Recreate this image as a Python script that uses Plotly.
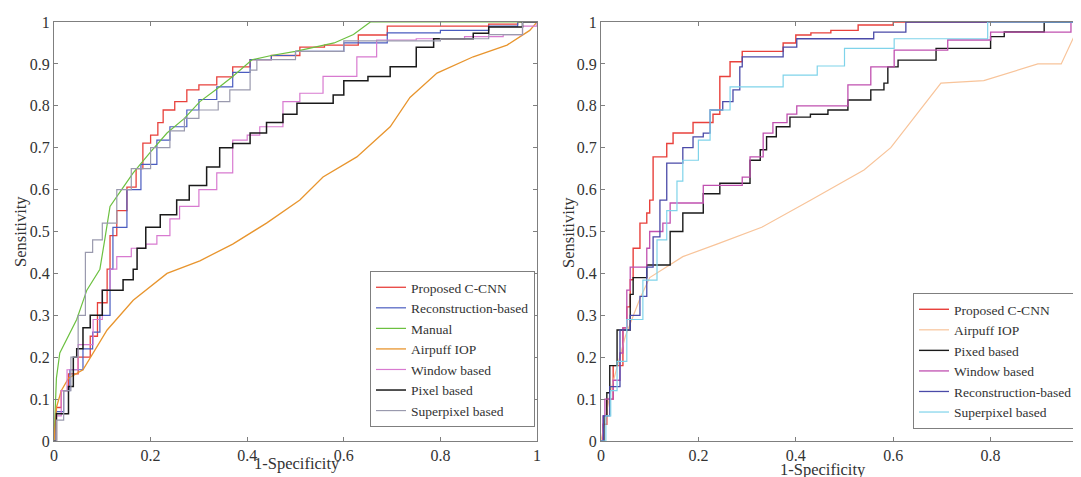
import plotly.graph_objects as go

# Page has an 8px body margin; the figure is sized so it fits the 1081x477 window.
OFF = 8
W, H = 1081 - OFF, 477 - OFF

def px(x):
    return (x - OFF) / W

def py(y):
    return 1 - (y - OFF) / H

# ---------------- Left panel data (1-Specificity, Sensitivity) ----------------
L_red_x = [0, 0.005, 0.015, 0.03, 0.05, 0.075, 0.09, 0.11, 0.116, 0.13, 0.151, 0.17, 0.184, 0.2, 0.215, 0.226, 0.25, 0.275, 0.3, 0.337, 0.37, 0.406, 0.45, 0.509, 0.56, 0.63, 0.69, 0.8, 0.9, 0.96, 1]
L_red_y = [0, 0.08, 0.12, 0.16, 0.2, 0.25, 0.33, 0.41, 0.49, 0.55, 0.606, 0.65, 0.711, 0.73, 0.76, 0.79, 0.81, 0.838, 0.85, 0.869, 0.893, 0.91, 0.92, 0.94, 0.945, 0.969, 0.99, 0.99, 0.995, 1, 1]

L_blue_x = [0, 0.005, 0.02, 0.033, 0.06, 0.08, 0.095, 0.116, 0.122, 0.151, 0.18, 0.213, 0.24, 0.275, 0.3, 0.337, 0.37, 0.406, 0.45, 0.5, 0.6, 0.69, 0.8, 0.9, 0.96, 1]
L_blue_y = [0, 0.07, 0.12, 0.17, 0.22, 0.26, 0.3, 0.41, 0.51, 0.6, 0.66, 0.718, 0.75, 0.79, 0.815, 0.845, 0.88, 0.91, 0.92, 0.93, 0.95, 0.974, 0.98, 0.99, 1, 1]

L_green_x = [0, 0.003, 0.005, 0.012, 0.03, 0.047, 0.068, 0.095, 0.105, 0.116, 0.14, 0.164, 0.2, 0.234, 0.27, 0.302, 0.337, 0.37, 0.41, 0.45, 0.5, 0.58, 0.62, 0.655, 1]
L_green_y = [0, 0.1, 0.15, 0.21, 0.25, 0.29, 0.36, 0.41, 0.48, 0.56, 0.6, 0.64, 0.69, 0.735, 0.77, 0.81, 0.84, 0.87, 0.91, 0.92, 0.93, 0.95, 0.97, 1.0, 1.0]

L_orange_x = [0, 0.005, 0.015, 0.03, 0.06, 0.11, 0.164, 0.234, 0.302, 0.37, 0.44, 0.509, 0.557, 0.627, 0.696, 0.737, 0.793, 0.868, 0.938, 0.965, 0.985, 1]
L_orange_y = [0, 0.08, 0.12, 0.15, 0.17, 0.265, 0.336, 0.4, 0.43, 0.47, 0.52, 0.575, 0.63, 0.678, 0.75, 0.82, 0.878, 0.917, 0.945, 0.965, 0.98, 1]

L_pink_x = [0, 0.005, 0.015, 0.027, 0.05, 0.081, 0.1, 0.116, 0.13, 0.16, 0.19, 0.213, 0.24, 0.26, 0.3, 0.337, 0.37, 0.4, 0.426, 0.474, 0.509, 0.557, 0.627, 0.668, 0.75, 0.85, 0.93, 0.97, 1]
L_pink_y = [0, 0.06, 0.12, 0.17, 0.23, 0.29, 0.36, 0.41, 0.44, 0.46, 0.47, 0.49, 0.53, 0.56, 0.6, 0.64, 0.718, 0.73, 0.75, 0.81, 0.83, 0.87, 0.917, 0.957, 0.96, 0.965, 0.97, 0.99, 1]

L_black_x = [0, 0.005, 0.03, 0.04, 0.047, 0.06, 0.075, 0.1, 0.143, 0.164, 0.172, 0.19, 0.22, 0.254, 0.28, 0.316, 0.343, 0.37, 0.406, 0.44, 0.474, 0.503, 0.578, 0.6, 0.65, 0.696, 0.75, 0.786, 0.868, 0.9, 0.97, 1]
L_black_y = [0, 0.065, 0.13, 0.2, 0.22, 0.27, 0.3, 0.36, 0.385, 0.41, 0.46, 0.51, 0.54, 0.575, 0.61, 0.654, 0.70, 0.71, 0.735, 0.76, 0.78, 0.806, 0.826, 0.86, 0.87, 0.893, 0.94, 0.96, 0.973, 0.988, 1, 1]

L_grey_x = [0, 0.005, 0.02, 0.035, 0.05, 0.065, 0.08, 0.1, 0.13, 0.16, 0.2, 0.24, 0.27, 0.3, 0.34, 0.364, 0.406, 0.42, 0.5, 0.6, 0.8, 0.9, 0.97, 1]
L_grey_y = [0, 0.05, 0.12, 0.2, 0.3, 0.45, 0.48, 0.52, 0.6, 0.65, 0.7, 0.74, 0.77, 0.79, 0.81, 0.838, 0.885, 0.91, 0.93, 0.955, 0.96, 0.97, 1, 1]

# ---------------- Right panel data ----------------
R_red_x = [0, 0.004, 0.012, 0.025, 0.045, 0.053, 0.06, 0.066, 0.08, 0.094, 0.1, 0.107, 0.135, 0.148, 0.189, 0.23, 0.244, 0.265, 0.29, 0.374, 0.4, 0.431, 0.472, 0.528, 0.6, 0.985]
R_red_y = [0, 0.04, 0.1, 0.18, 0.27, 0.32, 0.385, 0.46, 0.52, 0.544, 0.575, 0.678, 0.71, 0.735, 0.76, 0.78, 0.87, 0.905, 0.93, 0.95, 0.969, 0.974, 0.98, 0.993, 1.0, 1.0]

R_orange_x = [0, 0.02, 0.05, 0.08, 0.1, 0.168, 0.238, 0.33, 0.431, 0.54, 0.595, 0.698, 0.786, 0.897, 0.945, 0.985]
R_orange_y = [0, 0.12, 0.25, 0.34, 0.39, 0.44, 0.47, 0.51, 0.575, 0.647, 0.70, 0.854, 0.86, 0.9, 0.9, 1.0]

R_black_x = [0, 0.006, 0.012, 0.018, 0.033, 0.06, 0.066, 0.094, 0.142, 0.168, 0.21, 0.244, 0.306, 0.327, 0.34, 0.36, 0.388, 0.43, 0.466, 0.507, 0.554, 0.581, 0.589, 0.61, 0.688, 0.8, 0.828, 0.91, 0.985]
R_black_y = [0, 0.06, 0.115, 0.18, 0.265, 0.35, 0.39, 0.42, 0.5, 0.544, 0.59, 0.615, 0.67, 0.695, 0.726, 0.75, 0.773, 0.78, 0.79, 0.814, 0.838, 0.854, 0.893, 0.909, 0.937, 0.965, 0.976, 1.0, 1.0]

R_pink_x = [0, 0.004, 0.008, 0.025, 0.039, 0.045, 0.053, 0.06, 0.094, 0.1, 0.127, 0.142, 0.21, 0.29, 0.306, 0.333, 0.353, 0.382, 0.402, 0.507, 0.554, 0.602, 0.712, 0.8, 0.965, 0.985]
R_pink_y = [0, 0.06, 0.1, 0.145, 0.21, 0.27, 0.36, 0.415, 0.46, 0.5, 0.52, 0.568, 0.61, 0.63, 0.678, 0.735, 0.76, 0.78, 0.8, 0.85, 0.893, 0.933, 0.957, 0.976, 1.0, 1.0]

R_blue_x = [0, 0.005, 0.018, 0.039, 0.06, 0.08, 0.094, 0.107, 0.121, 0.135, 0.168, 0.189, 0.21, 0.224, 0.25, 0.271, 0.285, 0.29, 0.374, 0.402, 0.56, 0.626, 0.985]
R_blue_y = [0, 0.06, 0.13, 0.265, 0.3, 0.345, 0.415, 0.487, 0.575, 0.663, 0.70, 0.726, 0.735, 0.79, 0.81, 0.838, 0.893, 0.917, 0.94, 0.96, 0.976, 1.0, 1.0]

R_cyan_x = [0, 0.01, 0.02, 0.033, 0.053, 0.086, 0.115, 0.135, 0.156, 0.168, 0.2, 0.224, 0.265, 0.374, 0.444, 0.5, 0.602, 0.794, 0.985]
R_cyan_y = [0, 0.06, 0.12, 0.19, 0.29, 0.384, 0.48, 0.55, 0.62, 0.67, 0.718, 0.79, 0.845, 0.873, 0.895, 0.937, 0.96, 1.0, 1.0]

left_series = [
    ("Proposed C-CNN", L_red_x, L_red_y, "#e8413c", 1.3, "hv"),
    ("Reconstruction-based", L_blue_x, L_blue_y, "#4a5cc0", 1.2, "hv"),
    ("Manual", L_green_x, L_green_y, "#6cc040", 1.2, "linear"),
    ("Airpuff IOP", L_orange_x, L_orange_y, "#e8952e", 1.3, "linear"),
    ("Window based", L_pink_x, L_pink_y, "#d87ad0", 1.2, "hv"),
    ("Pixel based", L_black_x, L_black_y, "#1a1a1a", 1.5, "hv"),
    ("Superpixel based", L_grey_x, L_grey_y, "#9a9aae", 1.2, "hv"),
]
right_series = [
    ("Proposed C-CNN", R_red_x, R_red_y, "#e8413c", 1.4, "hv"),
    ("Airpuff IOP", R_orange_x, R_orange_y, "#f8c49a", 1.2, "linear"),
    ("Pixed based", R_black_x, R_black_y, "#1a1a1a", 1.4, "hv"),
    ("Window based", R_pink_x, R_pink_y, "#c050b0", 1.3, "hv"),
    ("Reconstruction-based", R_blue_x, R_blue_y, "#4a4aa8", 1.3, "hv"),
    ("Superpixel based", R_cyan_x, R_cyan_y, "#7fd3ea", 1.2, "hv"),
]

FONT = "Liberation Serif"
TXT = "#333333"
AX = "#7f7f7f"

fig = go.Figure()
for name, xs, ys, col, w, shape in left_series:
    fig.add_trace(go.Scatter(x=xs, y=ys, mode="lines", name=name,
                             line=dict(color=col, width=w, shape=shape),
                             xaxis="x", yaxis="y", legend="legend"))
for name, xs, ys, col, w, shape in right_series:
    fig.add_trace(go.Scatter(x=xs, y=ys, mode="lines", name=name,
                             line=dict(color=col, width=w, shape=shape),
                             xaxis="x2", yaxis="y2", legend="legend2"))

ydom = [py(441), py(22)]
axis_common = dict(showgrid=False, zeroline=False, showline=True, linecolor=AX, linewidth=1,
                   mirror="ticks", ticks="inside", ticklen=4, tickcolor=AX,
                   tickfont=dict(family=FONT, size=16, color=TXT))

legend_common = dict(bgcolor="white", bordercolor=AX, borderwidth=1, itemwidth=30,
                     tracegroupgap=0, font=dict(family=FONT, size=13.5, color=TXT))

def title_ann(text, x, y, angle=0):
    return dict(text=text, textangle=angle, x=px(x), y=py(y), xref="paper", yref="paper",
                xanchor="center", yanchor="middle", showarrow=False,
                font=dict(family=FONT, size=16.5, color=TXT))

fig.update_layout(
    width=W, height=H,
    margin=dict(l=0, r=0, t=0, b=0),
    paper_bgcolor="white", plot_bgcolor="white",
    font=dict(family=FONT, color=TXT),
    xaxis=dict(domain=[px(54), px(537)], range=[0, 1], tickvals=[0, 0.2, 0.4, 0.6, 0.8, 1],
               ticktext=["0", "0.2", "0.4", "0.6", "0.8", "1"], anchor="y", automargin=False, **axis_common),
    yaxis=dict(domain=ydom, range=[0, 1], dtick=0.1, tick0=0, anchor="x", automargin=False, **axis_common),
    xaxis2=dict(domain=[px(601), 1.0], range=[0, (1081 - 601) / 487], tickvals=[0, 0.2, 0.4, 0.6, 0.8],
                ticktext=["0", "0.2", "0.4", "0.6", "0.8"], anchor="y2", automargin=False, **axis_common),
    yaxis2=dict(domain=ydom, range=[0, 1], dtick=0.1, tick0=0, anchor="x2", automargin=False, **axis_common),
    legend=dict(x=px(535), xanchor="right", y=py(427), yanchor="bottom", **legend_common),
    legend2=dict(x=px(1078), xanchor="right", y=py(429), yanchor="bottom", **legend_common),
    annotations=[
        title_ann("Sensitivity", 20, 232, -90),
        title_ann("1-Specificity", 297, 463),
        title_ann("Sensitivity", 568, 232, -90),
        title_ann("1-Specificity", 823, 469),
    ],
)

fig.write_html("out.html")
